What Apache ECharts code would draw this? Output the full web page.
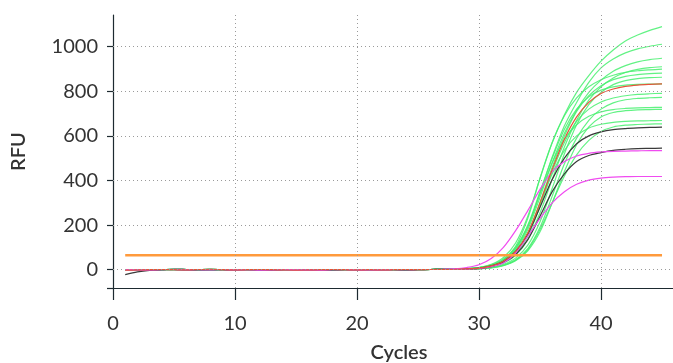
<!DOCTYPE html>
<html>
<head>
<meta charset="utf-8">
<script src="https://cdn.jsdelivr.net/npm/echarts@6/dist/echarts.min.js"></script>
<style>
  html, body { margin: 0; padding: 0; background: #fff; }
  #chart { width: 673px; height: 363px; }
</style>
</head>
<body>
<div id="chart"></div>
<script>
// cycle numbers
const cycles = [1,2,3,4,5,6,7,8,9,10,11,12,13,14,15,16,17,18,19,20,21,22,23,24,25,26,27,
  28,29,30,31,32,33,34,35,36,37,38,39,40,41,42,43,44,45];

// baseline part, cycles 1-27
const baseA = [1,0,-1,0,2,1,0,-1,1,0,0,-2,-1,1,0,-1,-2,0,1,0,-1,0,1,0,1,1,2];
const baseB = [-2,-1,0,1,0,-1,1,2,0,-1,0,1,0,-1,-2,-1,0,1,0,-1,0,-1,0,1,0,1,1];
const baseC = [-22,-10,-3,0,1,-1,0,1,0,-1,1,0,-1,0,1,0,-1,-1,0,0,1,0,0,-1,0,1,2];

// amplification part, cycles 28-45
const riseG1 = [3,5,10,22,48,105,230,410,570,695,795,870,935,985,1025,1052,1073,1090];
const riseG2 = [2,4,9,20,42,95,190,345,505,645,750,840,905,945,972,990,1002,1011];
const riseG3 = [2,4,8,18,40,88,180,325,480,612,715,795,850,890,915,932,942,948];
const riseG4 = [1,3,6,14,30,65,135,255,405,550,670,760,820,860,884,898,906,910];
const riseG5 = [3,5,10,24,55,120,240,410,570,690,770,820,852,872,885,892,896,899];
const riseG6 = [2,4,7,16,35,78,160,300,460,600,710,780,825,852,867,875,879,881];
const riseG7 = [1,2,5,11,24,52,110,215,365,520,650,740,795,830,848,857,861,863];
const riseG8 = [2,4,9,20,45,100,200,350,500,630,720,775,805,820,828,831,832,833];
const riseG9 = [2,3,6,14,32,72,150,285,440,570,665,720,752,770,780,786,789,791];
const riseG10 = [1,2,4,9,20,45,95,190,330,475,590,670,720,748,762,768,771,773];
const riseG11 = [2,4,8,18,42,95,195,340,480,585,650,688,708,718,723,726,727,728];
const riseG12 = [1,2,4,8,18,40,85,170,300,440,560,640,685,705,713,717,718,719];
const riseG13 = [2,3,7,16,36,80,165,295,430,535,600,635,652,661,665,667,668,669];
const riseG14 = [1,2,4,9,19,42,90,180,300,420,515,580,620,640,648,651,653,654];
const riseRed = [2,4,7,17,38,82,165,300,450,585,685,750,790,810,822,828,831,833];
const riseK1 = [2,4,7,17,38,82,160,280,405,500,565,600,618,628,633,636,638,639];
const riseK2 = [2,3,6,14,32,68,135,240,350,430,485,512,525,535,540,543,544,545];
const riseM1 = [4,10,22,50,100,175,265,360,440,485,510,522,528,531,532,533,534,534];
const riseM2 = [2,3,6,14,30,75,150,230,300,350,383,402,411,415,417,418,418,418];

const threshold = 65;
const thresholdCycles = [1, 45];
const yTicks = [0, 200, 400, 600, 800, 1000];
const xTicks = [0, 10, 20, 30, 40];

const GREEN = 'rgba(70,240,110,0.85)';
const curves = [
  { base: baseA, rise: riseG14, color: GREEN },
  { base: baseB, rise: riseG12, color: GREEN },
  { base: baseA, rise: riseG10, color: GREEN },
  { base: baseB, rise: riseG7, color: GREEN },
  { base: baseA, rise: riseG4, color: GREEN },
  { base: baseB, rise: riseG13, color: GREEN },
  { base: baseA, rise: riseG11, color: GREEN },
  { base: baseB, rise: riseG9, color: GREEN },
  { base: baseA, rise: riseG8, color: GREEN },
  { base: baseB, rise: riseG6, color: GREEN },
  { base: baseA, rise: riseG5, color: GREEN },
  { base: baseB, rise: riseG3, color: GREEN },
  { base: baseA, rise: riseG2, color: GREEN },
  { base: baseB, rise: riseG1, color: GREEN },
  { base: baseC, rise: riseK1, color: '#3a3a3a' },
  { base: baseA, rise: riseK2, color: '#3a3a3a' },
  { base: baseB, rise: riseM2, color: '#f04cf0' },
  { base: baseA, rise: riseM1, color: '#f04cf0' },
  { base: baseB, rise: riseRed, color: '#e4553a' }
];

const chart = echarts.init(document.getElementById('chart'), null, { renderer: 'canvas' });

const axisColor = '#1d2a30';
const textColor = '#333333';
const font = 'Lato, "Open Sans", sans-serif';
const dotted = { color: '#9a9a9a', width: 1, type: [1, 3] };

let series = curves.map((c) => {
  const vals = c.base.concat(c.rise);
  return {
    type: 'line',
    data: cycles.map((x, i) => [x, vals[i]]),
    showSymbol: false,
    symbol: 'none',
    smooth: 0.3,
    silent: true,
    lineStyle: { color: c.color, width: 1.2 },
    z: 3
  };
});

// grid lines
series.unshift({
  type: 'line',
  data: [],
  silent: true,
  markLine: {
    silent: true,
    symbol: ['none', 'none'],
    label: { show: false },
    lineStyle: dotted,
    animation: false,
    data: yTicks.map((v) => ({ yAxis: v })).concat(xTicks.slice(1).map((v) => ({ xAxis: v })))
  },
  z: 1
});

// threshold
series.push({
  type: 'line',
  data: thresholdCycles.map((x) => [x, threshold]),
  showSymbol: false,
  symbol: 'none',
  silent: true,
  lineStyle: { color: '#ff9a3c', width: 2.5 },
  z: 4
});

const option = {
  animation: false,
  backgroundColor: '#ffffff',
  grid: { left: 113, right: 0, top: 15, bottom: 75, containLabel: false, outerBoundsMode: 'none' },
  xAxis: {
    type: 'value',
    min: 0,
    max: 45.9,
    name: 'Cycles',
    nameLocation: 'middle',
    nameGap: 55,
    nameTextStyle: { color: textColor, fontSize: 20, fontWeight: 600, fontFamily: font, padding: [0, 0, 0, 12] },
    axisLine: { show: true, onZero: false, lineStyle: { color: axisColor, width: 1.2 } },
    axisTick: { show: true, length: 12, customValues: xTicks, lineStyle: { color: axisColor, width: 1.2 } },
    axisLabel: { customValues: xTicks, margin: 26, fontSize: 20, color: textColor, fontFamily: font,
      formatter: (v) => String(v) },
    splitLine: { show: false }
  },
  yAxis: {
    type: 'value',
    min: -82,
    max: 1142,
    name: 'RFU',
    nameLocation: 'middle',
    nameGap: 84,
    nameTextStyle: { color: textColor, fontSize: 20, fontWeight: 600, fontFamily: font },
    axisLine: { show: true, onZero: false, lineStyle: { color: axisColor, width: 1.2 } },
    axisTick: { show: true, length: 6, customValues: [-82].concat(yTicks), lineStyle: { color: axisColor, width: 1.2 } },
    axisLabel: { customValues: yTicks, margin: 15, fontSize: 20, color: textColor, fontFamily: font,
      formatter: (v) => String(v) },
    splitLine: { show: false }
  },
  series: series
};

chart.setOption(option);
window.addEventListener('resize', chart.resize);
</script>
</body>
</html>
